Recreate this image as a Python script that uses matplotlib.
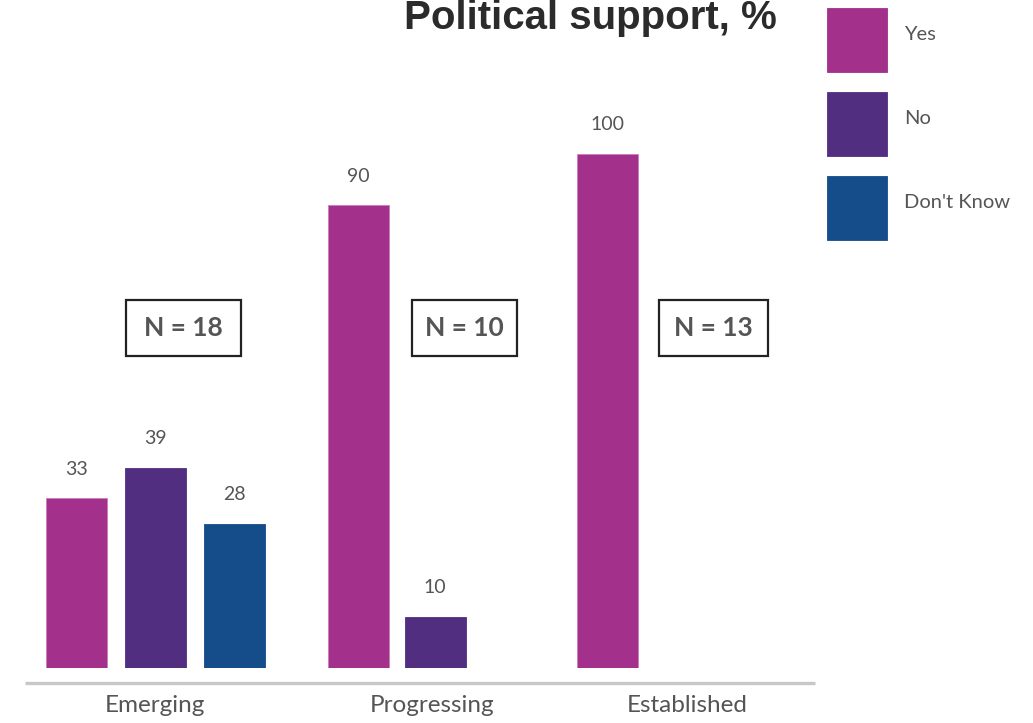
import matplotlib
matplotlib.use('Agg')
import matplotlib.pyplot as plt
from matplotlib.patches import Rectangle

# survey results, % of respondents per stage
stages      = ['Emerging', 'Progressing', 'Established']
yes         = [33, 90, 100]
no          = [39, 10, None]
dont_know   = [28, None, None]
n_counts    = [18, 10, 13]
series      = ['Yes', 'No', "Don't Know"]
colors      = ['#A3308A', '#512E80', '#154C8A']

# layout in pixels (figure is 1033 x 723)
W, H        = 1033, 723
base_y      = 668
top_y       = 154
bar_w       = 61
bar_x       = [[76, 155.5, 234], [358, 435, None], [607, None, None]]
label_x     = [155, 432, 687]
nbox        = [(126, 241), (412, 517), (659, 768)]

txt_grey = '#555555'

fig = plt.figure(figsize=(W / 100, H / 100), dpi=100)

# bar axes: x in pixels, y in percent
ax = fig.add_axes([0, (H - base_y) / H, 1, (base_y - top_y) / H])
ax.set_xlim(0, W)
ax.set_ylim(0, 100)
ax.axis('off')

for g in range(len(stages)):
    vals = [yes[g], no[g], dont_know[g]]
    for s, v in enumerate(vals):
        if v is None:
            continue
        x = bar_x[g][s]
        ax.bar(x, v, width=bar_w, color=colors[s], edgecolor='#c77dbb' if s == 0 else colors[s],
               linewidth=0.6)
        ax.annotate(str(v), (x, v), xytext=(0, 15), textcoords='offset points',
                    ha='center', va='bottom', fontsize=14, color=txt_grey,
                    family='Lato', clip_on=False)

# overlay in pixel coordinates for axis line, labels, boxes, legend
ov = fig.add_axes([0, 0, 1, 1])
ov.set_xlim(0, W)
ov.set_ylim(H, 0)
ov.axis('off')
ov.patch.set_alpha(0)

ov.plot([25, 815], [683, 683], color='#c8c8c8', linewidth=2.4, solid_capstyle='butt')

for g, name in enumerate(stages):
    ov.text(label_x[g], 705, name, ha='center', va='center', fontsize=17.5,
            color=txt_grey, family='Lato')
    x0, x1 = nbox[g]
    ov.add_patch(Rectangle((x0, 300), x1 - x0, 56, facecolor='white',
                           edgecolor='#222222', linewidth=1.6))
    ov.text((x0 + x1) / 2, 328, 'N = %d' % n_counts[g], ha='center', va='center',
            fontsize=19, fontweight='bold', color=txt_grey, family='Lato')

ov.text(777, 18, 'Political support, %', ha='right', va='center', fontsize=29,
        fontweight='bold', color='#2b2b2b', family='Liberation Sans')

leg_y = [8, 92, 176]
for s, name in enumerate(series):
    ov.add_patch(Rectangle((827, leg_y[s]), 60, 64, facecolor=colors[s],
                           edgecolor=colors[s], linewidth=0.6))
    ov.text(904, leg_y[s] + 27, name, ha='left', va='center', fontsize=14.5,
            color=txt_grey, family='Lato')

plt.savefig('out.png', dpi=100)
